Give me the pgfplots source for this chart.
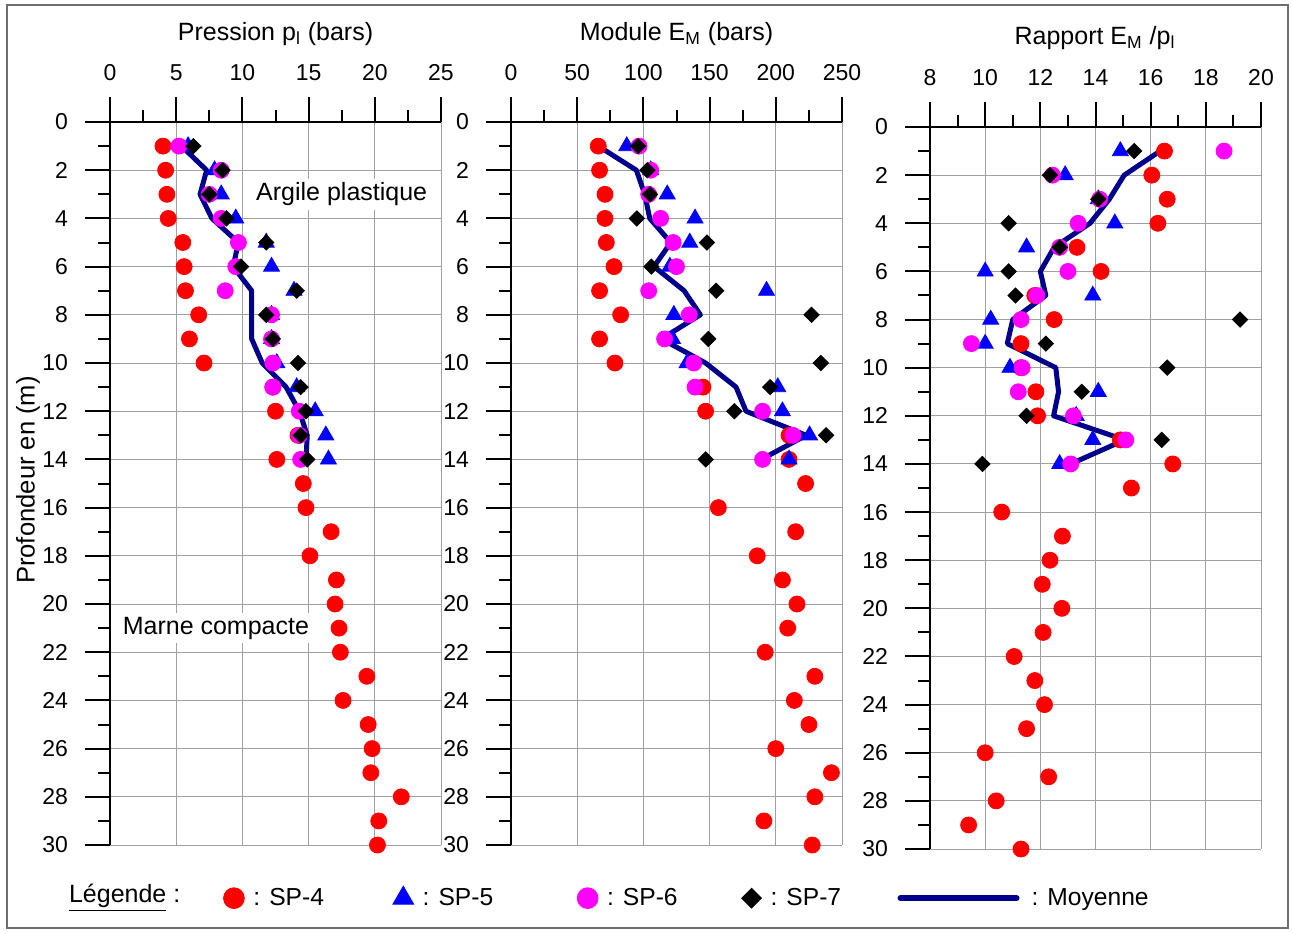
\documentclass[border=0pt]{standalone}
\usepackage{fontspec}
\setmainfont{Liberation Sans}
\usepackage{pgfplots}
\pgfplotsset{compat=1.18}

\definecolor{moy}{RGB}{0,0,139}
\definecolor{gridc}{RGB}{160,160,160}
\definecolor{framec}{RGB}{110,110,110}
\definecolor{rd}{RGB}{255,0,0}
\definecolor{bl}{RGB}{0,0,255}
\definecolor{mag}{RGB}{255,0,255}

\newcommand{\fs}{\fontsize{11.5}{13.5}\selectfont}
\newcommand{\ft}{\fontsize{12.5}{14.5}\selectfont}
\newcommand{\fl}{\fontsize{12.3}{14.5}\selectfont}

\pgfplotsset{
  panel/.style={
    scale only axis, width=165.5pt, height=361.5pt,
    y dir=reverse, ymin=0, ymax=30,
    axis x line*=top, axis y line*=left,
    axis line style={line width=1pt, black, -},
    ytick={0,2,...,30}, minor ytick={1,3,...,29},
    tick align=outside,
    major tick length=12.5pt, minor tick length=6pt,
    every tick/.style={black, line width=1pt},
    grid=major, major grid style={gridc, line width=0.5pt},
    /pgf/number format/assume math mode=true,
    tick label style={font=\fs},
    xticklabel style={yshift=4.5pt},
    yticklabel style={xshift=-5pt},
    clip=false,
  },
  sp4/.style={only marks, mark=*, rd, mark size=4pt},
  sp5/.style={only marks, mark=triangle*, bl, mark size=4.6pt},
  sp6/.style={only marks, mark=*, mag, mark size=4pt},
  sp7/.style={only marks, mark=square*, black, mark size=2.7pt, mark options={rotate=45}},
  moyl/.style={moy, line width=2.5pt, no marks, line join=round},
  legmark/.style={legend image code/.code={\draw[##1, every mark/.append style={scale=1.3}] plot coordinates {(0pt,0pt)};}},
  legline/.style={legend image code/.code={\draw[##1, line width=3pt, line cap=round] (0pt,0pt) -- (58pt,0pt);}},
}

\begin{document}
\begin{tikzpicture}[font=\fs]
\path (0,0) rectangle (646.5pt,-466.5pt);
\draw[framec, line width=1.2pt] (3.5pt,-2.5pt) rectangle (644pt,-464pt);

% ---------- Panel 1 ----------
\begin{axis}[panel, at={(55pt,-61pt)}, anchor=north west,
  xmin=0, xmax=25, xtick={0,5,...,25}, minor xtick={2.5,7.5,...,22.5},
  legend columns=5,
  legend style={at={(0.3430,-0.0735)}, anchor=west, draw=none, fill=none,
    inner sep=0pt, outer sep=0pt, font=\fl},
]
\node[fill=white, inner sep=2pt, font=\fontsize{12.5}{14}\selectfont] at (axis cs:17.5,3) {Argile plastique};
\node[fill=white, inner sep=2pt, font=\fontsize{12.5}{14}\selectfont] at (axis cs:8.0,21) {Marne compacte};
\addplot[sp4, forget plot] coordinates {(4.0,1)(4.2,2)(4.3,3)(4.4,4)(5.5,5)(5.6,6)(5.7,7)(6.7,8)(6.0,9)(7.1,10)(12.3,11)(12.5,12)(14.2,13)(12.6,14)(14.6,15)(14.8,16)(16.7,17)(15.1,18)(17.1,19)(17.0,20)(17.3,21)(17.4,22)(19.4,23)(17.6,24)(19.5,25)(19.8,26)(19.7,27)(22.0,28)(20.3,29)(20.2,30)};
\addplot[sp5, forget plot] coordinates {(5.9,1)(7.9,2)(8.4,3)(9.5,4)(11.8,5)(12.2,6)(13.9,7)(12.2,8)(12.2,9)(12.6,10)(14.1,11)(15.5,12)(16.3,13)(16.5,14)};
\addplot[sp6, forget plot] coordinates {(5.2,1)(8.4,2)(7.5,3)(8.4,4)(9.7,5)(9.5,6)(8.7,7)(12.2,8)(12.2,9)(12.3,10)(12.3,11)(14.3,12)(14.3,13)(14.4,14)};
\addplot[moyl, forget plot] coordinates {(5.4,1)(7.3,2)(6.8,3)(7.7,4)(9.7,5)(9.3,6)(10.7,7)(10.7,8)(10.7,9)(11.5,10)(13.3,11)(14.3,12)(14.9,13)(14.8,14)};
\addplot[sp7, forget plot] coordinates {(6.3,1)(8.5,2)(7.5,3)(8.8,4)(11.8,5)(9.9,6)(14.1,7)(11.8,8)(12.3,9)(14.2,10)(14.4,11)(14.8,12)(14.4,13)(14.9,14)};
\addlegendimage{sp4, legmark}\addlegendentry{\makebox[70.3pt][l]{\hspace{2.5pt}: SP-4}}
\addlegendimage{sp5, legmark}\addlegendentry{\makebox[77.8pt][l]{\hspace{2.5pt}: SP-5}}
\addlegendimage{sp6, legmark}\addlegendentry{\makebox[67.8pt][l]{\hspace{2.5pt}: SP-6}}
\addlegendimage{sp7, legmark}\addlegendentry{\makebox[64pt][l]{\hspace{2.5pt}: SP-7}}
\addlegendimage{moyl, legline}\addlegendentry{\hspace{4pt}: Moyenne}
\end{axis}

% ---------- Panel 2 ----------
\begin{axis}[panel, at={(255.5pt,-61pt)}, anchor=north west,
  xmin=0, xmax=250, xtick={0,50,...,250}, minor xtick={25,75,...,225}]
\addplot[sp4] coordinates {(65.9,1)(66.9,2)(71,3)(71,4)(72,5)(77.8,6)(66.9,7)(82.8,8)(66.9,9)(78.5,10)(145,11)(147,12)(210,13)(210,14)(222.5,15)(156.6,16)(215,17)(186,18)(205,19)(216,20)(209,21)(192,22)(229.5,23)(214,24)(225,25)(200,26)(242,27)(229.5,28)(191,29)(227.5,30)};
\addplot[sp5] coordinates {(87.4,1)(105.5,2)(118,3)(139,4)(135,5)(120,6)(193,7)(123,8)(122,9)(133,10)(201.5,11)(205,12)(225.5,13)(210,14)};
\addplot[sp6] coordinates {(96.7,1)(105.5,2)(104,3)(113,4)(122.5,5)(125,6)(104,7)(134.6,8)(116,9)(138,10)(139,11)(190,12)(213,13)(190,14)};
\addplot[moyl] coordinates {(66,1)(94.7,2)(101,3)(104.8,4)(120.7,5)(108,6)(130.8,7)(143,8)(113.6,9)(147,10)(170,11)(177.5,12)(223,13)(189,14)};
\addplot[sp7] coordinates {(96,1)(103,2)(105,3)(95,4)(148,5)(106,6)(155,7)(227,8)(149,9)(234,10)(195.7,11)(168.7,12)(238,13)(147,14)};
\end{axis}

% ---------- Panel 3 ----------
\begin{axis}[panel, at={(465pt,-63.5pt)}, anchor=north west, height=361pt,
  xmin=8, xmax=20, xtick={8,10,...,20}, minor xtick={9,11,...,19}]
\addplot[sp4] coordinates {(16.5,1)(16.04,2)(16.6,3)(16.26,4)(13.33,5)(14.2,6)(11.8,7)(12.5,8)(11.3,9)(11.3,10)(11.84,11)(11.9,12)(14.9,13)(16.8,14)(15.3,15)(10.6,16)(12.8,17)(12.35,18)(12.07,19)(12.78,20)(12.1,21)(11.05,22)(11.8,23)(12.15,24)(11.5,25)(10.0,26)(12.3,27)(10.4,28)(9.4,29)(11.3,30)};
\addplot[sp5] coordinates {(14.9,1)(12.9,2)(14.1,3)(14.7,4)(11.5,5)(10.0,6)(13.9,7)(10.2,8)(10.0,9)(10.9,10)(14.1,11)(13.3,12)(13.9,13)(12.7,14)};
\addplot[sp6] coordinates {(18.66,1)(12.44,2)(14.15,3)(13.37,4)(12.7,5)(13.0,6)(11.87,7)(11.3,8)(9.5,9)(11.34,10)(11.2,11)(13.2,12)(15.1,13)(13.1,14)};
\addplot[moyl] coordinates {(16.34,1)(15.04,2)(14.5,3)(13.8,4)(12.5,5)(12.0,6)(12.2,7)(11.0,8)(10.8,9)(12.56,10)(12.66,11)(12.48,12)(15.06,13)(13.1,14)};
\addplot[sp7] coordinates {(15.4,1)(12.35,2)(14.1,3)(10.85,4)(12.7,5)(10.85,6)(11.1,7)(19.24,8)(12.2,9)(16.6,10)(13.5,11)(11.5,12)(16.4,13)(9.9,14)};
\end{axis}

% ---------- Titles and labels ----------
\node[font=\ft] at (137.75pt,-17pt) {Pression p\textsubscript{l} (bars)};
\node[font=\ft] at (338.25pt,-17pt) {Module E\textsubscript{M} (bars)};
\node[font=\ft] at (547.5pt,-19pt) {Rapport E\textsubscript{M} /p\textsubscript{l}};
\node[rotate=90, font=\fontsize{12.8}{15}\selectfont] at (14pt,-240pt) {Profondeur en (m)};
\node[anchor=west, font=\ft] at (31pt,-449pt) {\underline{Légende} :};
\end{tikzpicture}
\end{document}
